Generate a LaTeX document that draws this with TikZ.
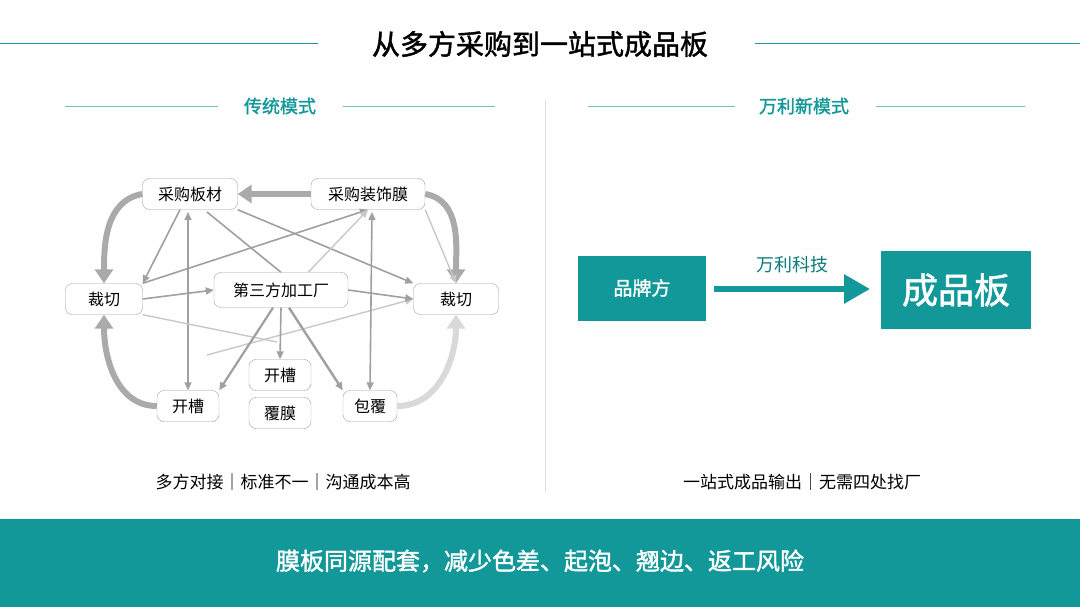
\documentclass[tikz,border=0pt]{standalone}
\usepackage{fontspec}
\setmainfont{Noto Sans CJK SC}
\newfontfamily\cjkb{Noto Sans CJK SC}[FakeBold=1.5]
\usetikzlibrary{arrows.meta}
\definecolor{teal1}{HTML}{13989A}
\definecolor{g1}{HTML}{A0A0A0}
\definecolor{g2}{HTML}{C8C8C8}
\begin{document}
\begin{tikzpicture}[x=1pt,y=-1pt,
 box/.style={draw=g1,rounded corners=7pt,fill=white,minimum height=31pt,inner xsep=8pt,font=\fontsize{16}{16}\selectfont},
 tarr/.style={draw=g1,line width=1.6pt,-{Triangle[length=8pt,width=7pt]}},
 farr/.style={draw=g2,line width=1.4pt,-{Triangle[length=8pt,width=7pt]}},
 barr/.style={draw=g1!90,line width=6pt,-{Triangle[length=14pt,width=18pt]}},
 hdr/.style={font=\cjkb\fontsize{18}{18}\selectfont,text=teal1},
 capt/.style={font=\fontsize{17}{17}\selectfont}]
\useasboundingbox (0,0) rectangle (1080,607);
\fill[white] (0,0) rectangle (1080,607);
\fill[teal1] (0,519) rectangle (1080,607);
% title
\node (title) at (540,44) {\cjkb\fontsize{28}{28}\selectfont 从多方采购到一站式成品板};
\draw[teal1,line width=1pt] (0,44) -- (318,44) (755,44) -- (1080,44);
\node[hdr] (h1) at (280,106) {传统模式};
\node[hdr] (h2) at (804,106) {万利新模式};
\draw[teal1!60,line width=0.8pt] (65,106) -- (218,106) (343,106) -- (495,106) (588,106) -- (735,106) (876,106) -- (1025,106);
\draw[black!12,line width=0.8pt] (545,100) -- (545,492);
% nodes
\node[box,minimum width=95pt] (cb) at (190,194) {采购板材};
\node[box,minimum width=114pt] (cz) at (368,194) {采购装饰膜};
\node[box,minimum width=77pt] (cl) at (104,299) {裁切};
\node[box,minimum width=134pt,minimum height=35pt] (dsf) at (281,290) {第三方加工厂};
\node[box,minimum width=85pt] (cr) at (456,299) {裁切};
\node[box,minimum width=62pt] (kb) at (188,406) {开槽};
\node[box,minimum width=62pt] (km) at (280,375) {开槽};
\node[box,minimum width=62pt] (fm) at (280,413) {覆膜};
\node[box,minimum width=54pt] (bf) at (370,406) {包覆};
% thick arrows
\draw[barr] (cz.west) -- (cb.east);
\draw[barr] (cb.west) to[out=190,in=90] (cl.north);
\draw[barr] (cz.east) to[out=-10,in=90] (cr.north);
\draw[barr] (kb.west) to[out=180,in=-90] (cl.south);
\draw[barr,draw=g2!70] (bf.east) to[out=0,in=-90] (cr.south);
% thin arrows
\coordinate (c1) at (277,342);
\coordinate (c2) at (207,355);
\draw[tarr] (cb.south) ++(-10,0) -- (cl.north east);
\draw[tarr,{Triangle[length=8pt,width=7pt]}-{Triangle[length=8pt,width=7pt]}] (188,212) -- (kb.north);
\draw[draw=g1,line width=1.6pt] (207,212) -- (dsf.north);
\draw[tarr] (cb.south east) -- (cr.north west);
\draw[tarr] (cl.north east) -- (cz.south);
\draw[tarr] (cl.east) -- (dsf.west);
\draw[draw=g2,line width=1.4pt] (cl.south east) -- (c1);
\draw[farr] (c2) -- (cr.west);
\draw[farr] (dsf.north east) ++(-40,0) -- (cz.south);
\draw[tarr,{Triangle[length=8pt,width=7pt]}-{Triangle[length=8pt,width=7pt]}] (372,212) -- (bf.north);
\draw[farr] (cz.south east) -- (cr.north);
\draw[tarr] (dsf.east) -- (cr.west);
\draw[tarr,line width=2.2pt] (dsf.south) ++(-8,0) -- (kb.north east);
\draw[tarr] (dsf.south) -- (km.north);
\draw[tarr,line width=2.4pt] (dsf.south) ++(8,0) -- (bf.north west);
% captions
\node[capt] (t1) at (283,482) {多方对接｜标准不一｜沟通成本高};
\node[capt] (t2) at (802,482) {一站式成品输出｜无需四处找厂};
% right
\node[fill=teal1,text=white,minimum width=128pt,minimum height=65pt,font=\cjkb\fontsize{19}{19}\selectfont] (pp) at (642,288) {品牌方};
\node[fill=teal1,text=white,minimum width=150pt,minimum height=78pt,font=\cjkb\fontsize{36}{36}\selectfont] (cp) at (956,290) {成品板};
\draw[teal1,line width=6pt,-{Triangle[length=26pt,width=28pt]}] (714,289) -- (870,289) node[midway,above=10pt,text=teal1!80!black,font=\fontsize{18}{18}\selectfont] (wl) {万利科技};
\node[text=white,font=\cjkb\fontsize{24}{24}\selectfont] (bt) at (540,561) {膜板同源配套，减少色差、起泡、翘边、返工风险};
\end{tikzpicture}
\end{document}
